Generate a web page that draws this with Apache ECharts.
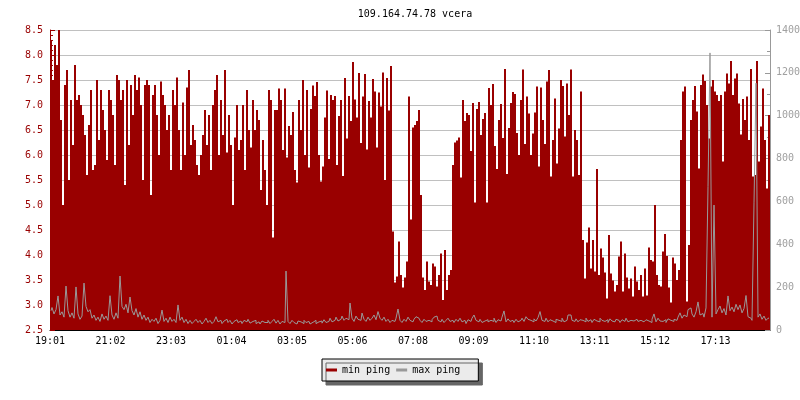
<!DOCTYPE html>
<html><head><meta charset="utf-8">
<script src="https://cdn.jsdelivr.net/npm/echarts@6/dist/echarts.min.js"></script>
<style>html,body{margin:0;padding:0;background:#fff}#c{width:800px;height:400px}</style>
</head><body><div id="c"></div>
<script>
const chartTitle = '109.164.74.78 vcera';
const tickLabels = ['19:01','21:02','23:03','01:04','03:05','05:06','07:08','09:09','11:10','13:11','15:12','17:13'];
const labelStepMin = 121;
const sampleStepMin = 4;
const totalMin = 1440;
const seriesNames = ['min ping', 'max ping'];

// min ping (left axis, ms) one value per 4 minutes starting 19:01
const minPing = [
8.3,7.5,8.2,7.8,8.5,6.7,5.0,7.4,7.7,5.5,
7.1,6.2,7.8,7.1,7.2,7.0,6.8,6.4,5.6,6.6,
7.3,5.7,5.8,7.5,6.3,7.3,6.9,6.5,5.9,7.3,
7.1,6.8,5.8,7.6,7.5,7.1,7.3,5.4,7.5,6.2,
7.4,6.8,7.6,7.3,7.55,7.0,5.5,7.4,7.5,7.4,
5.2,7.2,
7.4,6.8,6.0,7.47,7.2,7.0,6.5,6.8,5.7,7.3,
7.0,7.55,6.5,5.7,7.05,6.0,7.35,7.7,6.2,6.6,
6.3,5.8,5.6,6.0,6.4,6.9,6.2,6.8,5.7,7.0,
7.3,7.6,6.0,7.1,6.4,7.7,6.05,6.8,6.2,5.0,
6.35,7.0,6.1,6.3,7.0,5.7,7.3,6.5,6.15,7.1,
6.5,6.9,6.7,5.3,6.3,5.7,5.0,7.3,
7.1,4.35,6.9,6.9,7.33,7.1,6.1,7.33,5.95,6.58,
6.4,6.86,5.7,5.45,7.1,6.5,7.5,6.0,7.3,5.75,
6.92,7.39,7.18,7.46,6.0,5.47,5.77,6.75,7.29,5.92,
7.2,7.1,7.18,5.8,6.78,7.1,5.58,7.54,6.33,7.18,
6.68,7.86,7.11,6.75,7.64,6.24,7.17,7.62,6.11,7.08,
6.75,7.52,7.27,6.15,7.25,6.97,7.65,5.5,7.54,6.89,
7.78,4.47,
3.45,3.57,4.27,3.6,3.35,3.55,3.87,7.17,4.71,6.55,
6.6,6.68,6.9,5.2,3.55,3.3,3.87,3.47,3.4,3.83,
3.77,3.37,3.6,4.03,3.1,4.1,3.3,3.6,3.7,
5.8,6.25,6.29,6.35,5.55,7.1,6.68,6.84,6.8,6.08,
7.04,5.05,6.92,7.06,6.4,6.72,6.84,5.05,7.34,7.0,
7.42,6.18,5.72,6.7,7.02,6.34,7.72,5.62,6.54,7.04,
7.26,7.22,6.44,6.0,7.1,7.71,6.22,7.17,6.83,6.0,
6.43,6.85,7.37,5.77,7.35,6.7,6.22,7.47,7.7,5.57,
6.3,7.13,5.83,6.53,7.5,7.38,6.37,7.43,6.8,7.71,
5.57,6.5,6.3,5.6,7.27,
4.3,3.53,4.25,4.55,3.73,4.3,3.67,5.72,3.6,4.13,
3.95,3.65,3.13,4.4,3.63,3.49,3.27,3.4,3.97,4.27,
3.27,4.03,3.55,3.33,3.53,3.17,3.77,3.47,3.3,3.6,
3.17,3.73,3.19,4.15,3.9,3.87,5.0,3.6,3.4,3.37,
4.07,4.42,3.98,3.35,3.05,3.95,3.83,3.5,
3.7,6.3,7.27,7.37,3.07,4.2,6.7,7.1,7.38,6.87,
5.73,7.4,7.61,7.48,7.0,6.33,7.37,7.5,7.27,7.2,
7.08,7.2,5.87,7.27,7.63,7.43,7.88,7.2,7.53,7.63,
7.03,6.41,7.12,6.7,7.17,6.3,7.72,5.57,5.6,7.88,
5.87,6.57,7.33,6.3,5.33,6.8
];

// max ping (right axis, ms) one value per 4 minutes starting 19:01
const maxPing = [
90,105,75,95,159,70,85,60,205,90,
60,80,55,201,75,50,65,219,110,85,
95,55,70,45,60,40,75,50,65,45,
160,70,50,80,55,252,110,95,120,80,
154,90,70,100,60,85,50,70,45,60,
35,50,40,55,30,45,93,40,55,35,
60,40,50,35,117,45,60,35,50,30,
45,30,40,50,35,45,28,40,55,35,
45,30,40,62,38,45,30,42,50,35,
45,28,40,48,35,42,30,45,38,50,
32,40,45,30,38,28,42,35,
35,45,30,40,50,32,45,28,40,35,
275,
40,30,45,35,28,42,38,30,45,35,
40,28,36,45,30,38,42,32,48,35,
40,55,38,45,60,42,50,65,45,55,
48,
126,
55,40,65,50,45,79,50,40,60,45,
55,70,48,86,55,45,60,40,50,35,
45,
40,55,98,45,35,50,40,60,45,38,
50,62,55,45,35,50,40,45,38,48,
60,65,45,38,50,35,45,55,40,
45,35,50,40,55,38,45,30,48,40,
55,70,45,38,50,35,42,48,38,45,
40,55,35,48,42,60,89,38,52,40,
45,35,50,38,45,55,40,62,50,45,
38,52,42,58,86,45,40,55,38,48,
42,35,50,45,40,55,38,45,70,70,
45,40,52,38,48,
45,38,55,40,48,35,50,42,38,55,
45,40,48,35,52,42,38,50,45,35,
48,40,55,38,45,42,35,50,40,45,
38,42,48,42,35,50,75,38,55,42,
40,48,35,52,45,40,50,45,
60,80,55,70,62,95,103,75,60,85,
131,70,77,60,103,669,1293,60,583,75,
95,112,80,100,70,159,90,107,85,120,
95,117,80,100,161,62,55,45,593,1152,
60,75,50,65,45,55
];

const FONT = 'DejaVu Sans Mono';
const toPairs = arr => arr.map((v, i) => [i * sampleStepMin + sampleStepMin / 2, v]);

const chart = echarts.init(document.getElementById('c'), null, {renderer: 'canvas'});
chart.setOption({
  animation: false,
  backgroundColor: '#ffffff',
  title: {
    text: chartTitle, left: 410, top: 4, textAlign: 'center',
    textStyle: {fontFamily: FONT, fontSize: 10, fontWeight: 'normal', color: '#000'}
  },
  legend: {
    data: seriesNames, left: 322, top: 359, orient: 'horizontal',
    padding: [6, 18, 6, 4], itemGap: 6, itemWidth: 11, itemHeight: 3, icon: 'rect',
    backgroundColor: '#ebebeb', borderColor: '#000', borderWidth: 1,
    shadowColor: '#666', shadowOffsetX: 4, shadowOffsetY: 4, shadowBlur: 0,
    textStyle: {fontFamily: FONT, fontSize: 10, color: '#000'}
  },
  grid: {left: 50, right: 30, top: 30, bottom: 70, containLabel: false, outerBoundsMode: 'none'},
  xAxis: {
    type: 'value', min: 0, max: totalMin, interval: labelStepMin,
    axisLine: {show: true, lineStyle: {color: '#000'}},
    axisTick: {show: true, inside: true, length: 5, lineStyle: {color: '#000'}},
    axisLabel: {
      color: '#000', fontFamily: FONT, fontSize: 10, margin: 6, showMaxLabel: false,
      formatter: v => { const k = v / labelStepMin; return (Number.isInteger(k) && k < tickLabels.length) ? tickLabels[k] : ''; }
    },
    splitLine: {show: false}
  },
  yAxis: [{
    type: 'value', min: 2.5, max: 8.5, interval: 0.5, position: 'left',
    axisLine: {show: true, lineStyle: {color: '#990000'}},
    axisTick: {show: true, inside: true, length: 5, lineStyle: {color: '#990000'}},
    minorTick: {show: true, splitNumber: 5, length: 3, lineStyle: {color: '#990000'}},
    axisLabel: {color: '#990000', fontFamily: FONT, fontSize: 10, margin: 7, formatter: v => v.toFixed(1)},
    splitLine: {show: true, lineStyle: {color: '#c0c0c0', width: 1}}
  }, {
    type: 'value', min: 0, max: 1400, interval: 200, position: 'right',
    axisLine: {show: true, lineStyle: {color: '#999'}},
    axisTick: {show: true, inside: true, length: 5, lineStyle: {color: '#999'}},
    minorTick: {show: true, splitNumber: 2, length: 3, lineStyle: {color: '#999'}},
    axisLabel: {color: '#a0a0a0', fontFamily: FONT, fontSize: 10, margin: 6, formatter: v => String(v)},
    splitLine: {show: false}
  }],
  series: [{
    name: seriesNames[0], type: 'bar', yAxisIndex: 0, barWidth: 2,
    data: toPairs(minPing),
    itemStyle: {color: '#990000'},
    silent: true, z: 2
  }, {
    name: seriesNames[1], type: 'line', yAxisIndex: 1, step: 'middle', symbol: 'none',
    data: toPairs(maxPing),
    itemStyle: {color: '#999999'},
    lineStyle: {width: 1, color: '#999999'},
    silent: true, z: 3
  }]
});
</script>
</body></html>
